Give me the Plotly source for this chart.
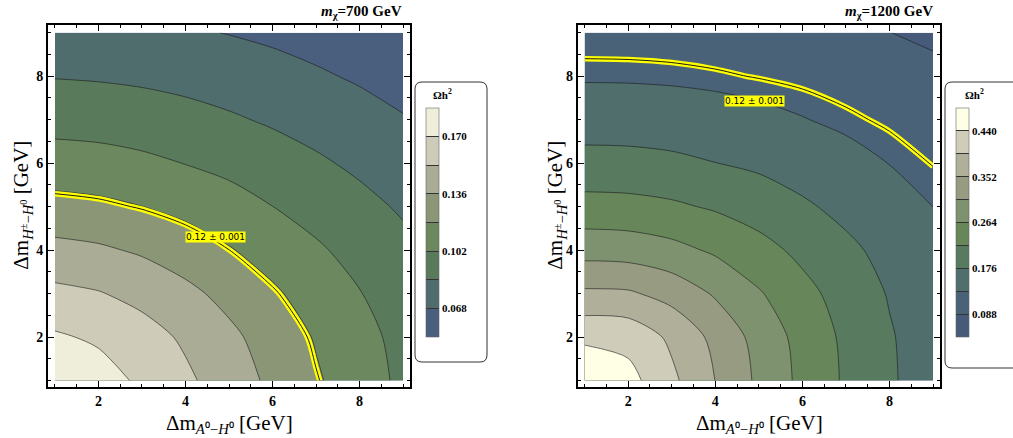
import plotly.graph_objects as go

# ---------------- data ----------------
dm_A = [1, 2, 3, 4, 5, 6, 7, 8, 9]          # Δm_{A0-H0} [GeV]
dm_Hc = [1, 2, 3, 4, 5, 6, 7, 8, 9]         # Δm_{H±-H0} [GeV]

# Ωh² at m_χ = 700 GeV, rows = dm_Hc, cols = dm_A
omega_700 = [
    [0.1858, 0.1772, 0.1671, 0.1562, 0.1445, 0.1326, 0.1209, 0.1102, 0.0985],
    [0.1721, 0.1675, 0.1598, 0.1504, 0.1397, 0.1287, 0.1178, 0.1076, 0.0970],
    [0.1571, 0.1540, 0.1480, 0.1401, 0.1311, 0.1214, 0.1121, 0.1026, 0.0945],
    [0.1408, 0.1384, 0.1339, 0.1276, 0.1201, 0.1125, 0.1042, 0.0967, 0.0893],
    [0.1245, 0.1226, 0.1191, 0.1145, 0.1088, 0.1021, 0.0961, 0.0896, 0.0830],
    [0.1094, 0.1081, 0.1054, 0.1016, 0.0975, 0.0927, 0.0874, 0.0819, 0.0764],
    [0.0961, 0.0952, 0.0933, 0.0905, 0.0870, 0.0830, 0.0788, 0.0741, 0.0690],
    [0.0843, 0.0835, 0.0821, 0.0800, 0.0772, 0.0739, 0.0700, 0.0661, 0.0621],
    [0.0737, 0.0731, 0.0718, 0.0699, 0.0675, 0.0649, 0.0620, 0.0586, 0.0549],
]

# Ωh² at m_χ = 1200 GeV
omega_1200 = [
    [0.4780, 0.4550, 0.4054, 0.3515, 0.2997, 0.2531, 0.2141, 0.1815, 0.1536],
    [0.4313, 0.4256, 0.3875, 0.3403, 0.2928, 0.2489, 0.2115, 0.1797, 0.1530],
    [0.3598, 0.3578, 0.3365, 0.3033, 0.2680, 0.2334, 0.2020, 0.1731, 0.1507],
    [0.2911, 0.2880, 0.2766, 0.2577, 0.2347, 0.2097, 0.1847, 0.1638, 0.1438],
    [0.2355, 0.2336, 0.2267, 0.2151, 0.2003, 0.1818, 0.1653, 0.1492, 0.1319],
    [0.1901, 0.1890, 0.1846, 0.1765, 0.1682, 0.1578, 0.1453, 0.1313, 0.1190],
    [0.1564, 0.1558, 0.1534, 0.1489, 0.1422, 0.1335, 0.1245, 0.1159, 0.1078],
    [0.1279, 0.1275, 0.1259, 0.1229, 0.1188, 0.1144, 0.1089, 0.1025, 0.0953],
    [0.1083, 0.1080, 0.1071, 0.1052, 0.1024, 0.0987, 0.0939, 0.0883, 0.0827],
]

levels_700 = [0.068, 0.170, 0.017]      # start, end, step
levels_1200 = [0.088, 0.440, 0.044]
cbar_range_700 = [0.051, 0.187]
cbar_range_1200 = [0.044, 0.484]
cbar_ticks_700 = [0.068, 0.085, 0.102, 0.119, 0.136, 0.153, 0.170]
cbar_text_700 = ["0.068", "", "0.102", "", "0.136", "", "0.170"]
cbar_ticks_1200 = [0.088, 0.132, 0.176, 0.220, 0.264, 0.308, 0.352, 0.396, 0.440]
cbar_text_1200 = ["0.088", "", "0.176", "", "0.264", "", "0.352", "", "0.440"]
relic_value = 0.12
relic_label = "0.12 ± 0.001"
label_pos_700 = [4.70, 4.31]
label_pos_1200 = [4.90, 7.42]
titles = ["<b><i>m</i><sub>χ</sub>=700 GeV</b>", "<b><i>m</i><sub>χ</sub>=1200 GeV</b>"]

bands_700 = ["#4A5E7D", "#4F6D6C", "#5A7A5C", "#6C885E",
             "#8B9677", "#AAAC96", "#CECCB8", "#EFEEDA"]
bands_1200 = ["#475A7A", "#4A6278", "#4F6E6C", "#587A5E", "#67875B",
              "#7E9270", "#979B82", "#B0AF9A", "#CFCDBA", "#FFFFE6"]

# ---------------- helpers ----------------
W, H = 1013, 438
def px(x):
    return x / W
def py(y):
    return 1 - y / H

def even_scale(cols):
    n = len(cols) - 1
    return [[i / n, c] for i, c in enumerate(cols)]

def step_scale(cols):
    n = len(cols)
    out = []
    for i, c in enumerate(cols):
        out.append([i / n, c])
        out.append([(i + 1) / n, c])
    return out

serif = "Liberation Serif"
fig = go.Figure()

panels = [
    dict(z=omega_700, lv=levels_700, bands=bands_700, cr=cbar_range_700,
         tv=cbar_ticks_700, tt=cbar_text_700, xa="x", ya="y", cbx=426, cbt=442,
         lab=label_pos_700),
    dict(z=omega_1200, lv=levels_1200, bands=bands_1200, cr=cbar_range_1200,
         tv=cbar_ticks_1200, tt=cbar_text_1200, xa="x2", ya="y2", cbx=956, cbt=974,
         lab=label_pos_1200),
]

for p in panels:
    s, e, d = p["lv"]
    fig.add_trace(go.Contour(
        x=dm_A, y=dm_Hc, z=p["z"], xaxis=p["xa"], yaxis=p["ya"],
        autocontour=False,
        contours=dict(start=s, end=e + d / 100, size=d, coloring="fill"),
        colorscale=even_scale(p["bands"]), showscale=False,
        line=dict(color="rgba(25,25,25,0.85)", width=0.7, smoothing=0.8),
        hoverinfo="skip",
    ))
    # relic density band 0.12 ± 0.001
    fig.add_trace(go.Contour(
        x=dm_A, y=dm_Hc, z=p["z"], xaxis=p["xa"], yaxis=p["ya"],
        autocontour=False,
        contours=dict(start=relic_value, end=relic_value, size=0.01, coloring="lines"),
        colorscale=[[0, "#FFFF00"], [1, "#FFFF00"]], showscale=False,
        line=dict(width=5.5, smoothing=0.8), hoverinfo="skip",
    ))
    fig.add_trace(go.Contour(
        x=dm_A, y=dm_Hc, z=p["z"], xaxis=p["xa"], yaxis=p["ya"],
        autocontour=False,
        contours=dict(start=relic_value, end=relic_value, size=0.01, coloring="lines"),
        colorscale=[[0, "#1a1a1a"], [1, "#1a1a1a"]], showscale=False,
        line=dict(width=1, smoothing=0.8), hoverinfo="skip",
    ))
    # colour legend
    fig.add_trace(go.Scatter(
        x=[-50], y=[-50], xaxis=p["xa"], yaxis=p["ya"], mode="markers",
        showlegend=False, hoverinfo="skip",
        marker=dict(color=[p["cr"][0]], cmin=p["cr"][0], cmax=p["cr"][1],
                    colorscale=step_scale(p["bands"]), showscale=True,
                    colorbar=dict(
                        x=px(p["cbx"]), xanchor="left", y=py(222.5), yanchor="middle",
                        len=229, lenmode="pixels", thickness=13, thicknessmode="pixels",
                        xpad=0, ypad=0, outlinewidth=0.6, outlinecolor="#666",
                        tickmode="array", tickvals=p["tv"], ticktext=p["tt"],
                        ticks="inside", ticklen=13, tickwidth=1, tickcolor="#333",
                        tickfont=dict(family=serif, size=11, weight="bold", color="black"),
                    )),
    ))

axis_common = dict(
    showgrid=False, zeroline=False, showline=True, linecolor="black", linewidth=2,
    mirror="allticks", ticks="inside", ticklen=6, tickwidth=1, tickcolor="black",
    tick0=0, dtick=2,
    minor=dict(dtick=0.5, ticks="inside", ticklen=3, tickwidth=1, tickcolor="black"),
    tickfont=dict(family=serif, size=14, weight="bold", color="black"),
    automargin=False,
)

ydom = [py(387), py(24.5)]
fig.update_layout(
    width=W, height=H, margin=dict(l=0, r=0, t=0, b=0),
    paper_bgcolor="white", plot_bgcolor="white", template="none",
    showlegend=False,
    xaxis=dict(domain=[px(48), px(410)], range=[0.84, 9.16], anchor="y", **axis_common),
    yaxis=dict(domain=ydom, range=[0.85, 9.19], anchor="x", **axis_common),
    xaxis2=dict(domain=[px(577.7), px(940)], range=[0.84, 9.16], anchor="y2", **axis_common),
    yaxis2=dict(domain=ydom, range=[0.85, 9.19], anchor="x2", **axis_common),
)

xtitle = "Δm<sub><i>A</i>⁰−<i>H</i>⁰</sub> [GeV]"
ytitle = "Δm<sub><i>H</i><sup>±</sup>−<i>H</i><sup>0</sup></sub> [GeV]"
ann = []
for cx, yx, tx, title in [(229, 22, 404, titles[0]), (759, 556, 935, titles[1])]:
    ann.append(dict(x=px(cx), y=py(424), xref="paper", yref="paper", text=xtitle,
                    showarrow=False, xanchor="center", yanchor="middle",
                    font=dict(family=serif, size=21, color="black")))
    ann.append(dict(x=px(yx), y=py(205.7), xref="paper", yref="paper", text=ytitle,
                    showarrow=False, xanchor="center", yanchor="middle", textangle=-90,
                    font=dict(family=serif, size=21, color="black")))
    ann.append(dict(x=px(tx), y=py(12), xref="paper", yref="paper", text=title,
                    showarrow=False, xanchor="right", yanchor="middle",
                    font=dict(family=serif, size=15, color="black")))
for p in panels:
    ann.append(dict(x=p["lab"][0], y=p["lab"][1], xref=p["xa"], yref=p["ya"],
                    text=relic_label, showarrow=False, bgcolor="#FFFF00",
                    borderpad=0, font=dict(family="DejaVu Sans", size=9, color="black")))
    ann.append(dict(x=px(p["cbt"]), y=py(94), xref="paper", yref="paper",
                    text="Ωh<sup>2</sup>", showarrow=False, xanchor="center", yanchor="middle",
                    font=dict(family=serif, size=11, color="black", weight="bold")))
fig.update_layout(annotations=ann)

def rounded_box(x0, y0, x1, y1, r):
    pts = (f"M {px(x0 + r)},{py(y0)} L {px(x1 - r)},{py(y0)} Q {px(x1)},{py(y0)} {px(x1)},{py(y0 + r)} "
           f"L {px(x1)},{py(y1 - r)} Q {px(x1)},{py(y1)} {px(x1 - r)},{py(y1)} "
           f"L {px(x0 + r)},{py(y1)} Q {px(x0)},{py(y1)} {px(x0)},{py(y1 - r)} "
           f"L {px(x0)},{py(y0 + r)} Q {px(x0)},{py(y0)} {px(x0 + r)},{py(y0)} Z")
    return dict(type="path", xref="paper", yref="paper", path=pts,
                line=dict(color="#333", width=1), fillcolor="rgba(0,0,0,0)", layer="below")

fig.update_layout(shapes=[rounded_box(415, 82, 487, 362, 7), rounded_box(945, 82, 1030, 368, 7)])

fig.write_html("out.html", config={"displayModeBar": False},
               post_script="document.body.style.margin='0';document.body.style.overflow='hidden';")
